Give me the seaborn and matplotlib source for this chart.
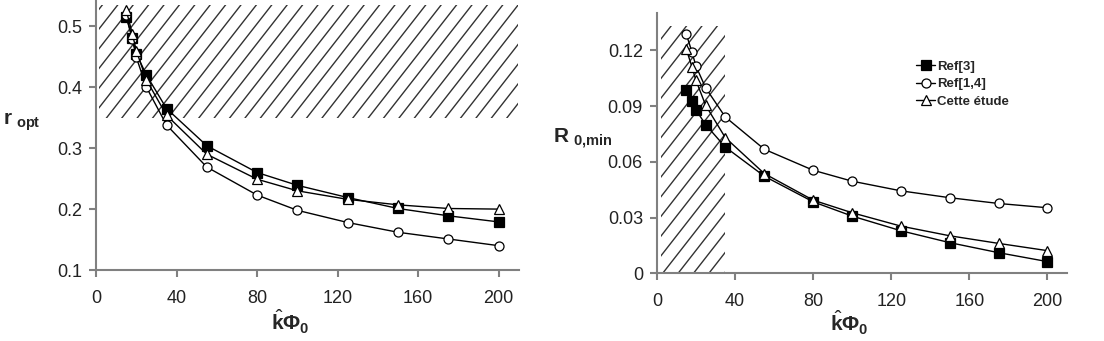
import numpy as np
import pandas as pd
import matplotlib
matplotlib.use("Agg")
import matplotlib.pyplot as plt
from matplotlib.patches import Rectangle
from matplotlib.lines import Line2D
from matplotlib.transforms import IdentityTransform
import seaborn as sns

# k_hat * Phi_0 values shared by every series
k_phi = [15, 18, 20, 25, 35, 55, 80, 100, 125, 150, 175, 200]

# left panel: r_opt
r_ref3 = [0.515, 0.480, 0.455, 0.420, 0.365, 0.304, 0.260, 0.239, 0.219, 0.201, 0.189, 0.179]
r_ref14 = [0.518, 0.479, 0.449, 0.400, 0.338, 0.269, 0.223, 0.198, 0.178, 0.162, 0.151, 0.140]
r_etude = [0.526, 0.488, 0.460, 0.412, 0.354, 0.290, 0.249, 0.230, 0.216, 0.207, 0.201, 0.200]

# right panel: R_0,min
R_ref3 = [0.0985, 0.093, 0.088, 0.080, 0.068, 0.0523, 0.0385, 0.0308, 0.0229, 0.0165, 0.0111, 0.0063]
R_ref14 = [0.129, 0.119, 0.1116, 0.0998, 0.0842, 0.0668, 0.0555, 0.0496, 0.0444, 0.0407, 0.0376, 0.0353]
R_etude = [0.1209, 0.111, 0.1039, 0.0904, 0.0731, 0.0537, 0.0394, 0.0326, 0.0254, 0.0202, 0.0161, 0.0122]

labels = ["Ref[3]", "Ref[1,4]", "Cette étude"]

sns.set_style("ticks")
plt.rcParams['font.family'] = ['Liberation Sans', 'DejaVu Sans']
plt.rcParams['mathtext.fontset'] = 'custom'
plt.rcParams['mathtext.rm'] = 'Liberation Sans'
plt.rcParams['mathtext.bf'] = 'Liberation Sans:bold'

fig = plt.figure(figsize=(11.04, 3.41), dpi=100)
ax1 = fig.add_axes([0.087, 0.208, 0.383, 0.792])
ax2 = fig.add_axes([0.595, 0.1985, 0.3715, 0.7625])

styles = [
    dict(marker='s', markerfacecolor='black'),
    dict(marker='o', markerfacecolor='white'),
    dict(marker='^', markerfacecolor='white'),
]


def draw(ax, series, show_legend):
    for vals, lab, st in zip(series, labels, styles):
        sns.lineplot(x=k_phi, y=vals, ax=ax, color='black', linewidth=1.0,
                     markersize=6.5, markeredgecolor='black', markeredgewidth=0.9,
                     label=lab if show_legend else None, legend=False,
                     zorder=3, **st)
    for side in ['top', 'right']:
        ax.spines[side].set_visible(False)
    for side in ['left', 'bottom']:
        ax.spines[side].set_color('#808080')
        ax.spines[side].set_linewidth(1.5)
    ax.tick_params(axis='both', colors='#808080', width=1.5, length=5,
                   labelsize=13, labelcolor='#222222')
    ax.tick_params(axis='x', pad=9)
    ax.tick_params(axis='y', pad=5)
    ax.set_xlim(0, 210)
    ax.set_xticks([0, 40, 80, 120, 160, 200])
    ax.set_xlabel(r'$\hat{\mathbf{k}}\mathbf{\Phi}_{\mathbf{0}}$', fontsize=15)


def hatch(ax, rect, spacing=15.4, slope=1.28):
    # diagonal hatching clipped to the shaded zone (pixel spacing like the original)
    ax.add_patch(rect)
    for c in np.arange(-1500, 1200, spacing):
        xs = np.array([c, c + 1400])
        ln = Line2D(xs, (xs - c) * slope, transform=IdentityTransform(),
                    color='#333333', linewidth=1.0, zorder=1)
        ax.add_artist(ln)
        ln.set_clip_path(rect)


draw(ax1, [r_ref3, r_ref14, r_etude], False)
ax1.set_ylim(0.1, 0.543)
ax1.set_yticks([0.1, 0.2, 0.3, 0.4, 0.5])
hatch(ax1, Rectangle((1.5, 0.35), 208, 0.185, fill=False, linewidth=0))
ax1.set_ylabel(r'$\mathbf{r}_{\ \mathbf{opt}}$', fontsize=15, rotation=0)
ax1.yaxis.set_label_coords(-0.175, 0.508)
ax1.xaxis.set_label_coords(0.459, -0.14)

draw(ax2, [R_ref3, R_ref14, R_etude], True)
ax2.set_ylim(0, 0.14)
ax2.set_yticks([0, 0.03, 0.06, 0.09, 0.12])
ax2.set_yticklabels(['0', '0.03', '0.06', '0.09', '0.12'])
hatch(ax2, Rectangle((2, 0), 33, 0.133, fill=False, linewidth=0))
ax2.set_ylabel(r'$\mathbf{R}_{\ \mathbf{0{,}min}}$', fontsize=15, rotation=0)
ax2.yaxis.set_label_coords(-0.18, 0.47)
ax2.xaxis.set_label_coords(0.47, -0.135)

ax2.legend(loc='upper left', bbox_to_anchor=(0.824, 0.842),
           bbox_transform=fig.transFigure, frameon=False,
           prop={'weight': 'bold', 'size': 9.5}, handlelength=1.4,
           handletextpad=0.2, labelspacing=0.4, borderpad=0)

fig.savefig("out.png", dpi=100)
